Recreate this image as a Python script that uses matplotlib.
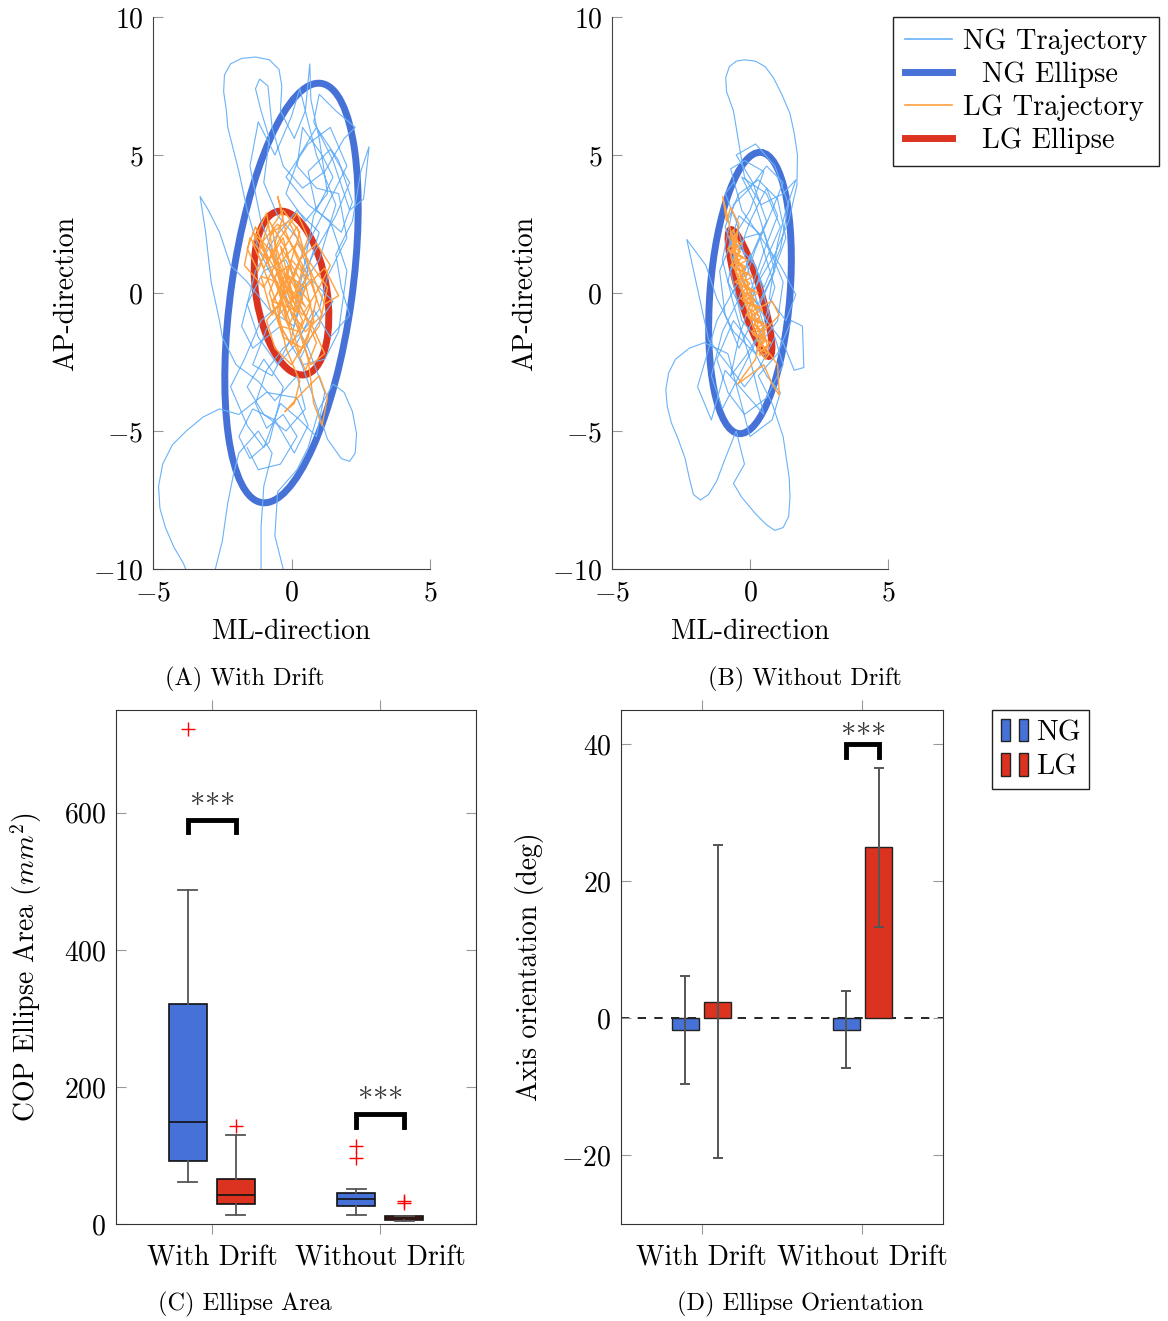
import numpy as np
import matplotlib.pyplot as plt
from matplotlib.patches import Ellipse, Patch
from matplotlib.lines import Line2D
from matplotlib.legend_handler import HandlerTuple

plt.rcParams['font.family'] = 'serif'
plt.rcParams['font.serif'] = ['cmr10']
plt.rcParams['mathtext.fontset'] = 'cm'
plt.rcParams['axes.formatter.use_mathtext'] = True
plt.rcParams['font.size'] = 20

# ---- COP trajectories (ML, AP) ----
ng_drift_path = [
    (0.2, 0.3), (0.9, 1.6), (1.6, 2.8), (2.1, 4.0), (1.4, 5.2), (0.6, 4.4), (0.9, 3.0), (1.8, 2.2), (2.2, 3.3), (1.7, 4.8),
    (0.9, 6.0), (0.3, 5.0), (-0.2, 3.6), (0.5, 2.6), (1.3, 3.6), (1.0, 5.6), (0.7, 7.0), (0.66, 8.3), (0.5, 6.6), (0.1, 5.6),
    (-0.4, 6.6), (-0.35, 7.5), (-0.45, 8.1), (-0.8, 8.45), (-1.3, 8.55), (-1.8, 8.5), (-2.2, 8.3), (-2.42, 7.9), (-2.45, 7.3), (-2.35, 6.6),
    (-2.3, 6.0), (-2.1, 5.2), (-1.9, 4.4), (-1.6, 3.0), (-1.2, 1.6),
    (-0.6, 0.4), (0.1, -0.6), (0.6, 0.8), (0.2, 2.0), (-0.5, 2.8), (-1.0, 4.0), (-0.8, 5.6), (-1.1, 6.6), (-1.3, 7.4), (-1.15, 7.75),
    (-0.85, 7.5), (-0.7, 6.0), (-0.3, 4.6), (0.4, 3.8), (1.2, 4.4), (1.9, 5.6), (2.3, 6.0), (1.6, 6.6), (1.0, 7.2), (0.8, 6.2), (1.5, 4.8),
    (2.1, 3.0), (2.6, 3.4), (2.8, 5.3), (2.5, 4.4), (2.2, 2.6), (1.6, 1.4), (1.8, 0.2), (2.1, -0.8), (1.4, -1.6), (0.8, -0.6),
    (0.2, -1.8), (-0.5, -2.6), (-1.2, -1.6), (-1.6, -0.4), (-1.0, 0.8), (-0.2, 1.2), (0.4, -0.2), (0.1, -1.2), (-0.8, -0.6), (-1.6, 0.4),
    (-2.2, 1.0), (-2.6, 2.2), (-3.0, 3.0), (-3.3, 3.5), (-3.1, 2.2), (-2.9, 0.4), (-2.6, -1.0), (-2.5, -1.6), (-2.0, -2.6), (-1.2, -3.2), (-0.6, -3.9),
    (0.2, -3.0), (0.5, -4.2), (-0.2, -5.0), (-1.0, -4.4), (-1.6, -3.4), (-1.0, -2.4), (-0.3, -3.4), (-0.8, -5.4), (-1.5, -6.0), (-1.9, -5.2),
    (-1.4, -4.2), (-0.6, -4.6), (0.1, -5.8), (0.6, -4.8), (0.2, -3.8), (-0.9, -3.6), (-1.9, -4.4), (-2.6, -4.2), (-3.2, -4.5), (-3.8, -5.0),
    (-4.3, -5.5), (-4.65, -6.2), (-4.8, -7.0), (-4.75, -7.8), (-4.55, -8.5), (-4.25, -9.2), (-3.9, -9.8), (-3.7, -10.3), (-3.3, -11.0),
    (-2.8, -10.2), (-2.5, -9.0), (-2.3, -7.6), (-2.1, -6.6), (-1.9, -5.8), (-1.2, -5.0), (-0.7, -5.8),
    (-1.0, -7.0), (-1.1, -8.5), (-1.1, -10.2), (-0.7, -10.6), (-0.3, -10.0), (-0.6, -8.8), (-0.5, -7.2), (0.2, -6.4), (0.6, -5.6), (1.0, -4.2),
    (1.5, -3.3), (1.9, -3.6), (2.2, -4.3), (2.35, -5.1), (2.3, -5.8), (2.1, -6.1), (1.8, -6.0), (1.3, -5.3), (0.8, -3.8), (0.3, -2.4), (0.9, -1.2), (1.5, -0.3), (0.7, 0.5),
    (-0.2, -0.5), (-0.9, -1.3), (-1.4, -2.6), (-0.7, -3.0), (0.0, -1.6), (0.5, 0.6), (1.0, 2.2), (0.2, 3.0), (-0.6, 2.0), (-1.3, 0.8),
    (-1.8, -1.2), (-1.4, -2.0), (-0.4, -1.2), (0.4, -2.6), (1.2, -2.4), (1.7, -1.4), (2.0, 0.8), (1.4, 2.6), (0.6, 3.2), (-0.2, 4.2),
    (0.6, 5.4), (1.4, 6.0), (2.0, 4.6), (1.2, 3.0), (0.2, 1.0), (-0.4, -0.4), (-1.1, -1.0), (-1.7, -2.4), (-2.2, -3.4), (-1.6, -4.8),
    (-1.0, -5.6), (-0.4, -4.0), (0.3, -4.6), (0.9, -5.2), (1.2, -3.6), (0.6, -2.0), (0.0, -0.8), (-0.5, 1.0), (-1.1, 2.6), (-1.5, 4.6),
    (-1.2, 6.2), (-0.6, 5.0), (0.0, 6.4), (0.3, 7.4), (0.9, 5.0), (1.6, 3.2), (1.0, 1.2), (0.3, 0.2), (0.8, 2.8), (1.5, 4.2),
    (1.1, 5.0), (0.4, 6.0), (0.2, 4.6), (0.9, 3.8), (1.7, 3.6), (2.0, 2.0), (1.3, 0.6), (1.0, -0.6), (0.4, -1.4), (-0.3, -2.0),
    (-0.9, -2.8), (-1.3, -4.0), (-0.9, -4.9), (-0.3, -4.4), (0.2, -5.2), (-0.4, -6.2), (-1.2, -6.4), (-1.6, -5.6),
]
lg_drift_path = [
    (0.0, 0.0), (-0.6, 1.8), (-0.3, 2.8), (-0.5, 3.5), (-0.2, 2.2), (0.4, 0.8), (0.8, -1.0), (0.3, -2.2), (-0.2, -0.6), (-0.9, 1.2),
    (-1.5, 2.0), (-1.7, 1.0), (-1.0, 0.2), (-0.4, 1.4), (0.2, 2.4), (0.6, 1.0), (1.2, -0.4), (1.7, -0.1), (1.2, 0.9), (0.5, 0.2),
    (-0.1, -1.2), (-0.6, -0.2), (-1.2, 1.4), (-0.8, 2.6), (-0.2, 1.6), (0.3, -0.4), (0.9, -1.8), (0.5, -2.8), (0.0, -1.6), (-0.5, 0.4),
    (-1.1, 0.6), (-0.7, -0.8), (0.1, 0.6), (0.6, 2.0), (0.2, 2.9), (-0.4, 2.0), (-1.0, 0.9), (-1.4, 1.8), (-0.9, 2.9), (-0.6, 1.0),
    (-0.2, -0.4), (0.5, -1.4), (1.1, -0.8), (0.7, 0.4), (0.0, 1.2), (-0.5, -0.6), (-0.2, -2.0), (0.3, -3.2), (0.1, -4.0), (-0.24, -4.3),
    (0.4, -3.6), (1.0, -3.0), (1.3, -3.8), (1.1, -4.8), (0.8, -4.0), (0.6, -2.4), (0.2, -1.0), (-0.4, 0.8), (-0.8, 1.6), (-0.3, 0.2),
    (0.4, -0.8), (1.0, 0.2), (1.4, 1.0), (0.9, 1.8), (0.3, 1.2), (-0.3, -0.2), (-0.9, -1.0), (-0.6, -2.0), (0.0, -2.6), (0.6, -1.6),
    (0.9, -0.2), (0.5, 1.4), (-0.1, 2.6), (-0.7, 2.2), (-1.2, 0.8), (-1.6, 1.6), (-1.3, 2.4), (-0.8, 1.2), (-0.3, 2.0), (0.1, 0.4),
    (0.7, -0.4), (0.3, -1.4), (-0.4, -1.2), (-0.8, 0.0), (-0.4, 1.1), (0.2, 1.8), (0.8, 0.9), (1.3, 0.2), (1.0, -1.2), (0.4, -2.0),
    (-0.3, -1.6), (-0.7, -0.4), (-0.2, 0.7), (0.5, 0.2), (0.2, -0.7), (-0.5, 0.2), (-1.1, 1.8), (-0.5, 2.5), (0.1, 1.6), (0.6, 0.6),
    (0.1, -0.2), (-0.6, 1.4), (-1.4, 2.2), (-1.0, 1.5), (-0.2, 0.3), (0.4, -1.0), (0.0, -1.9), (-0.5, -1.0), (-0.1, 0.9), (0.3, 2.2),
    (-0.3, 3.0), (-0.7, 2.4), (-0.4, 0.5), (0.2, -0.3), (0.8, -1.3), (1.2, -2.2), (0.7, -2.6), (0.2, -1.2), (-0.3, 0.0), (-0.1, 1.0),
    (-0.6, 0.6), (-0.2, -0.9), (0.3, 0.5), (-0.4, 1.7), (0.0, 0.1), (0.5, -0.5), (-0.1, 0.6), (-0.7, -0.3), (0.1, -0.6), (0.4, 1.0),
]
ng_nodrift_path = [
    (0.0, 0.0), (0.5, 1.5), (1.0, 2.8), (0.6, 3.8), (0.0, 2.6), (-0.5, 1.2), (-0.9, 2.4), (-0.4, 3.6), (0.3, 4.1), (1.0, 3.4),
    (1.3, 2.0), (0.8, 0.6), (0.2, -0.8), (-0.4, -2.0), (-0.9, -0.8), (-1.1, 0.8), (-0.6, 2.0), (0.0, 3.0), (0.5, 4.4), (-0.2, 4.8),
    (-0.7, 4.5), (-0.3, 3.0), (0.4, 2.0), (1.1, 1.0), (1.66, -0.06), (1.3, -1.0), (0.7, -0.2), (1.0, 1.8), (1.3, 3.0), (1.66, 4.1),
    (1.2, 3.6), (0.4, 3.2), (-0.2, 4.2), (-0.4, 5.4), (-0.6, 6.6), (-0.85, 7.3), (-0.88, 7.8), (-0.75, 8.2), (-0.5, 8.4), (-0.2, 8.45),
    (0.2, 8.4), (0.55, 8.2), (0.85, 7.8), (1.15, 7.2), (1.45, 6.5), (1.6, 5.8), (1.72, 5.0), (1.7, 3.9), (1.4, 2.6), (0.9, 1.4),
    (0.3, 0.4), (-0.3, -0.6), (-0.8, 0.4), (-0.5, 1.8), (0.2, 1.0), (0.7, -0.8), (0.2, -2.2), (-0.6, -1.4), (-1.2, -0.2), (-1.6, 1.0),
    (-2.29, 1.94), (-2.0, 0.6), (-1.7, -0.8), (-1.5, -1.7), (-0.8, -2.6), (-0.2, -3.4), (0.4, -2.6), (0.9, -1.6), (1.2, -2.6), (0.6, -3.8),
    (-0.2, -4.4), (-0.8, -3.6), (-1.2, -2.4), (-0.6, -1.0), (0.0, -1.8), (0.6, -3.0), (1.1, -3.6), (0.8, -4.6), (0.0, -5.2), (-0.8, -2.2),
    (-1.65, -1.8), (-2.2, -2.0), (-2.7, -2.4), (-2.95, -2.9), (-3.05, -3.5), (-3.0, -4.1), (-2.85, -4.7), (-2.6, -5.3), (-2.35, -6.0), (-2.2, -6.7),
    (-2.05, -7.3), (-1.8, -7.5), (-1.5, -7.3), (-1.2, -6.8), (-0.9, -6.0), (-0.5, -5.0), (-0.2, -6.2), (-0.6, -6.9), (-0.3, -7.4), (0.2, -8.0),
    (0.6, -8.4), (0.9, -8.6), (1.2, -8.5), (1.4, -8.1), (1.45, -7.4), (1.42, -6.7), (1.2, -5.2), (0.8, -4.0), (0.3, -3.0), (1.0, -2.2),
    (1.5, -1.0), (1.9, -1.2), (1.95, -2.7), (1.6, -2.8), (1.2, -1.8), (0.6, -1.0), (-0.2, 0.4), (-0.8, 1.6), (-0.4, 2.8), (0.3, 2.2),
    (0.9, 0.2), (0.4, -1.4), (-0.3, -2.8), (-1.0, -4.2), (-1.4, -3.0), (-1.0, -1.4), (-0.4, -0.2), (0.2, 1.6), (0.8, 3.0), (1.2, 4.0),
    (0.6, 4.6), (0.0, 3.8), (-0.6, 3.2), (-1.0, 1.2), (-0.6, -0.4), (0.0, -2.4), (0.5, -4.4), (-0.2, -3.6), (-0.9, -2.8), (-1.4, -4.6),
    (-1.9, -3.4), (-1.2, -1.0), (-0.2, 0.8), (0.6, 2.6), (0.1, 4.0), (-0.5, 5.0), (0.2, 5.4), (0.9, 4.6), (1.4, 3.2), (1.1, 1.6),
    (0.5, 0.2), (0.0, 1.4), (-0.4, 0.2), (0.3, -0.4), (0.9, 0.8), (0.5, 2.2), (-0.2, 2.0), (-0.7, 0.8), (-0.3, -1.0), (0.4, -1.8),
    (1.0, -1.0), (1.2, 0.4), (0.7, 1.6), (0.2, 3.2), (-0.3, 4.2), (0.6, 3.6), (1.1, 2.4), (0.4, 0.8), (-0.4, -1.6), (-0.7, -3.0),
    (-0.1, -2.2), (0.5, -1.2), (0.0, 0.6), (-0.5, 2.6), (-0.9, 3.6), (-0.6, 4.0),
]
lg_nodrift_path = [
    (-0.72, 2.2), (-0.45, 1.9), (-0.8, 1.6), (-0.25, 1.3), (-0.7, 1.0), (-0.05, 0.7), (-0.55, 0.4), (0.15, 0.1), (-0.35, -0.2), (0.35, -0.5),
    (-0.15, -0.8), (0.5, -1.1), (0.05, -1.4), (0.6, -1.7), (0.25, -2.0), (0.7, -2.2), (0.55, -2.4), (0.4, -2.1), (0.75, -1.8), (0.1, -1.5),
    (0.6, -1.2), (-0.05, -0.9), (0.45, -0.6), (-0.25, -0.3), (0.3, 0.0), (-0.4, 0.3), (0.1, 0.6), (-0.6, 0.9), (-0.1, 1.2), (-0.75, 1.5),
    (-0.3, 1.8), (-0.75, 2.0), (-0.6, 2.3), (-0.5, 2.0), (-0.65, 1.7), (-0.35, 1.5), (-0.6, 1.2), (-0.15, 0.95), (-0.45, 0.65), (0.0, 0.35),
    (-0.25, 0.05), (0.2, -0.25), (-0.05, -0.55), (0.35, -0.85), (0.15, -1.15), (0.55, -1.45), (0.3, -1.75), (0.6, -2.05), (1.0, -2.6), (1.06, -3.7),
    (0.8, -3.3), (0.5, -2.6), (-0.45, -3.3), (0.2, -2.4), (0.4, -1.5), (1.06, -0.8), (0.8, -0.3), (0.2, -0.6), (-0.3, 0.5), (-0.5, 1.4),
    (-0.99, 3.5), (-0.85, 2.6), (-0.7, 3.1), (-0.4, 2.5), (-0.6, 1.6), (-0.2, 0.7), (0.1, -0.3), (0.45, -1.2), (0.65, -2.0), (0.35, -1.9),
    (-0.05, -0.8), (-0.4, 0.4), (-0.7, 1.3), (-0.55, 2.1), (-0.65, 1.9), (-0.4, 1.6), (-0.5, 1.1), (-0.2, 0.9), (-0.35, 0.5), (-0.05, 0.2),
    (-0.15, -0.1), (0.1, -0.4), (0.05, -0.7), (0.3, -1.0), (0.25, -1.3), (0.5, -1.6), (0.45, -1.9), (0.6, -2.2), (0.35, -2.25), (0.4, -1.6),
    (0.15, -1.0), (-0.1, -0.4), (-0.3, 0.2), (-0.5, 0.8), (-0.55, 1.5), (-0.45, 2.2),
]

# ---- confidence ellipses: centre (ML, AP), semi-axes, angle (deg) ----
ng_drift_ellipse = [0.0, 0.0, 7.67, 2.18, 82]
lg_drift_ellipse = [0.0, 0.0, 3.0, 1.28, 99]
ng_nodrift_ellipse = [0.0, 0.0, 5.11, 1.45, 85.6]
lg_nodrift_ellipse = [0.0, 0.0, 2.40, 0.39, 107]

# ---- ellipse area box plots (mm^2) ----
conditions = ['With Drift', 'Without Drift']
ng_area_med = [148.7, 37.2]
ng_area_q1 = [91.5, 26.1]
ng_area_q3 = [321.6, 45.2]
ng_area_lo = [60.8, 13.6]
ng_area_hi = [487.0, 51.3]
ng_area_out = [[723.0], [114.0, 96.5]]
lg_area_med = [42.2, 9.0]
lg_area_q1 = [28.6, 6.5]
lg_area_q3 = [66.3, 11.6]
lg_area_lo = [13.6, 4.0]
lg_area_hi = [129.6, 11.6]
lg_area_out = [[143.7], [33.0, 30.7]]

# ---- ellipse orientation (deg), mean and sd ----
ng_angle = [-1.66, -1.66]
ng_angle_sd = [7.84, 5.6]
lg_angle = [2.46, 25.0]
lg_angle_sd = [22.9, 11.6]

ng_line = '#6ab2f8'
lg_line = '#ffa040'
ng_col = '#4672d8'
lg_col = '#dc3321'

W, H = 1168, 1321
fig = plt.figure(figsize=(W / 100, H / 100), dpi=100)


def fig_rect(x0, y0, x1, y1):
    return [x0 / W, 1 - y1 / H, (x1 - x0) / W, (y1 - y0) / H]


def traj_axes(rect, ng_path, lg_path, ng_ell, lg_ell):
    ax = fig.add_axes(rect)
    ng = np.array(ng_path)
    lg = np.array(lg_path)
    ax.plot(ng[:, 0], ng[:, 1], color=ng_line, lw=0.8, solid_joinstyle='round')
    ax.add_patch(Ellipse((ng_ell[0], ng_ell[1]), 2 * ng_ell[2], 2 * ng_ell[3], angle=ng_ell[4],
                         fill=False, ec=ng_col, lw=5))
    ax.plot(lg[:, 0], lg[:, 1], color=lg_line, lw=1.0, solid_joinstyle='round')
    ax.add_patch(Ellipse((lg_ell[0], lg_ell[1]), 2 * lg_ell[2], 2 * lg_ell[3], angle=lg_ell[4],
                         fill=False, ec=lg_col, lw=5))
    ax.set_xlim(-5, 5)
    ax.set_ylim(-10, 10)
    ax.set_xticks([-5, 0, 5])
    ax.set_yticks([-10, -5, 0, 5, 10])
    for s in ['top', 'right']:
        ax.spines[s].set_visible(False)
    for s in ['left', 'bottom']:
        ax.spines[s].set_color('#444444')
    ax.tick_params(direction='in', length=7, color='#999999', pad=7)
    ax.tick_params(axis='x', pad=8)
    ax.set_xlabel('ML-direction', labelpad=9)
    ax.set_ylabel('AP-direction', labelpad=10)
    return ax


axA = traj_axes(fig_rect(153, 17, 430, 569), ng_drift_path, lg_drift_path, ng_drift_ellipse, lg_drift_ellipse)
axB = traj_axes(fig_rect(612, 17, 888, 569), ng_nodrift_path, lg_nodrift_path, ng_nodrift_ellipse, lg_nodrift_ellipse)

handles = [Line2D([], [], color=ng_line, lw=1.2), Line2D([], [], color=ng_col, lw=5),
           Line2D([], [], color=lg_line, lw=1.2), Line2D([], [], color=lg_col, lw=5)]
labels = ['NG Trajectory', '  NG Ellipse', 'LG Trajectory', '  LG Ellipse']
fig.legend(handles, labels, loc='upper left', bbox_to_anchor=(893 / W, 1 - 17 / H), borderaxespad=0,
           fancybox=False, edgecolor='#222222', framealpha=1, handlelength=1.65, handletextpad=0.38,
           labelspacing=0.22, borderpad=0.42, fontsize=20.5)

# ---- (C) box plots ----
axC = fig.add_axes(fig_rect(116, 710, 476, 1224))
pos = np.arange(1, len(conditions) + 1)
off = 0.143
for vals, shift, col in [((ng_area_med, ng_area_q1, ng_area_q3, ng_area_lo, ng_area_hi, ng_area_out), -off, ng_col),
                         ((lg_area_med, lg_area_q1, lg_area_q3, lg_area_lo, lg_area_hi, lg_area_out), off, lg_col)]:
    med, q1, q3, lo, hi, out = vals
    stats = [dict(med=med[i], q1=q1[i], q3=q3[i], whislo=lo[i], whishi=hi[i], fliers=out[i])
             for i in range(len(conditions))]
    axC.bxp(stats, positions=pos + shift, widths=0.226, capwidths=0.113, patch_artist=True,
            boxprops=dict(facecolor=col, edgecolor='#111111', lw=1.2),
            medianprops=dict(color='#111111', lw=1.2),
            whiskerprops=dict(color='#555555', lw=1.3),
            capprops=dict(color='#555555', lw=1.3),
            flierprops=dict(marker='+', markeredgecolor='red', markersize=10, markeredgewidth=1.0))

stars = r'${\ast}{\ast}{\ast}$'
for x, y0, y1 in [(1, 572, 590), (2, 141, 161)]:
    axC.plot([x - off, x - off, x + off, x + off], [y0, y1, y1, y0], color='black', lw=3.5,
             solid_joinstyle='miter')
    axC.text(x, y1 + 12, stars, ha='center', va='bottom', fontsize=22, color='#333333')

axC.set_xlim(0.43, 2.57)
axC.set_ylim(0, 750)
axC.set_xticks(pos)
axC.set_xticklabels(conditions)
axC.set_yticks([0, 200, 400, 600])
axC.tick_params(axis='y', direction='in', left=True, right=True, length=7, color='#999999', pad=7)
axC.tick_params(axis='x', direction='out', top=True, bottom=True, length=7, color='#999999', pad=8)
for s in axC.spines.values():
    s.set_color('#333333')
axC.set_ylabel(r'COP Ellipse Area ($mm^2$)', labelpad=14)

# ---- (D) bar chart ----
axD = fig.add_axes(fig_rect(621, 710, 943, 1224))
axD.axhline(0, color='black', lw=1.2, ls=(0, (5, 5)), zorder=0.5)
ekw = dict(ecolor='#555555', elinewidth=1.4, capsize=3.8, capthick=1.4)
axD.bar(pos - 0.1, ng_angle, width=0.166, yerr=ng_angle_sd, color=ng_col, edgecolor='#222222', lw=1,
        error_kw=ekw, label='NG')
axD.bar(pos + 0.1, lg_angle, width=0.166, yerr=lg_angle_sd, color=lg_col, edgecolor='#222222', lw=1,
        error_kw=ekw, label='LG')
axD.plot([1.9, 1.9, 2.1, 2.1], [38.1, 40.1, 40.1, 38.1], color='black', lw=3.5, solid_joinstyle='miter')
axD.text(2, 40.5, stars, ha='center', va='bottom', fontsize=22, color='#333333')
axD.set_xlim(0.5, 2.5)
axD.set_ylim(-30, 45)
axD.set_xticks(pos)
axD.set_xticklabels(conditions)
axD.set_yticks([-20, 0, 20, 40])
axD.tick_params(axis='y', direction='in', left=True, right=True, length=7, color='#999999', pad=7)
axD.tick_params(axis='x', direction='out', top=True, bottom=True, length=7, color='#999999', pad=8)
for s in axD.spines.values():
    s.set_color('#333333')
axD.set_ylabel('Axis orientation (deg)', labelpad=12)

p_ng = Patch(facecolor=ng_col, edgecolor='#222222')
p_lg = Patch(facecolor=lg_col, edgecolor='#222222')
fig.legend([(p_ng, p_ng), (p_lg, p_lg)], ['NG', 'LG'], loc='upper left',
           bbox_to_anchor=(992 / W, 1 - 710 / H), borderaxespad=0,
           handler_map={tuple: HandlerTuple(ndivide=None, pad=0.3)},
           fancybox=False, edgecolor='#222222', framealpha=1, handlelength=0.95, handleheight=0.8,
           handletextpad=0.25, labelspacing=0.25, borderpad=0.3, fontsize=21)

# ---- sub captions ----
for x, y, txt in [(245, 679, '(A) With Drift'), (805, 679, '(B) Without Drift'),
                  (245, 1304, '(C) Ellipse Area'), (800, 1304, '(D) Ellipse Orientation')]:
    fig.text(x / W, 1 - y / H, txt, ha='center', va='center', fontsize=17.5)

fig.savefig('out.png', dpi=100)
